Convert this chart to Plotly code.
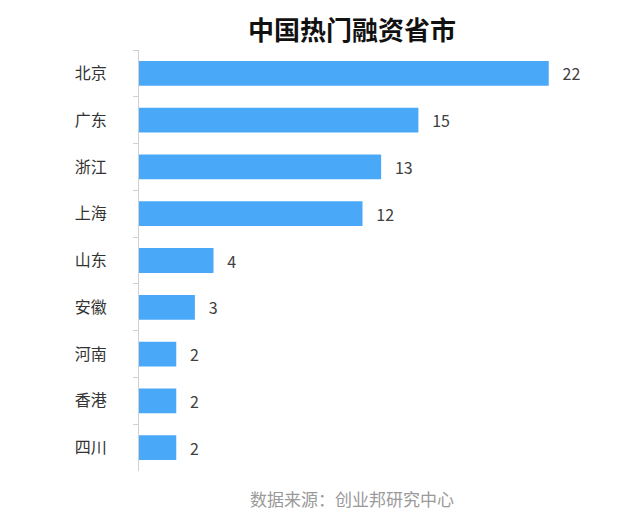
import plotly.graph_objects as go

categories = ["北京", "广东", "浙江", "上海", "山东", "安徽", "河南", "香港", "四川"]
values = [22, 15, 13, 12, 4, 3, 2, 2, 2]
title_text = "中国热门融资省市"
source_text = "数据来源：创业邦研究中心"

fig = go.Figure(go.Bar(
    y=categories,
    x=values,
    orientation="h",
    marker=dict(color="#4AA8F8", line=dict(width=0)),
    text=[str(v) for v in values],
    texttemplate="   %{text}",
    textposition="outside",
    cliponaxis=False,
    textfont=dict(family="Noto Sans CJK SC, sans-serif", size=16, color="#404040"),
    hoverinfo="skip",
))

fig.update_layout(
    width=640, height=516,
    margin=dict(l=139, r=54, t=50, b=45),
    paper_bgcolor="white", plot_bgcolor="white",
    bargap=0.47,
    showlegend=False,
    title=dict(text="<b>" + title_text + "</b>", x=0.55, xanchor="center",
               y=0.94, yanchor="middle",
               font=dict(family="Noto Sans CJK SC, sans-serif", size=26, color="#111111")),
    annotations=[dict(text=source_text, xref="paper", yref="paper",
                      x=0.4765, xanchor="center", y=-0.065, yanchor="middle",
                      showarrow=False,
                      font=dict(family="Noto Sans CJK SC, sans-serif", size=17, color="#9a9a9a"))],
)

fig.update_xaxes(range=[0, 24], visible=False)
fig.update_yaxes(
    autorange="reversed",
    showline=True, linecolor="#d0d0d0", linewidth=1,
    ticks="outside", ticklen=5, tickcolor="#d0d0d0", tickson="boundaries",
    ticklabelstandoff=28,
    showgrid=False,
    tickfont=dict(family="Noto Sans CJK SC, sans-serif", size=16, color="#333333"),
)

fig.write_html("out.html")
